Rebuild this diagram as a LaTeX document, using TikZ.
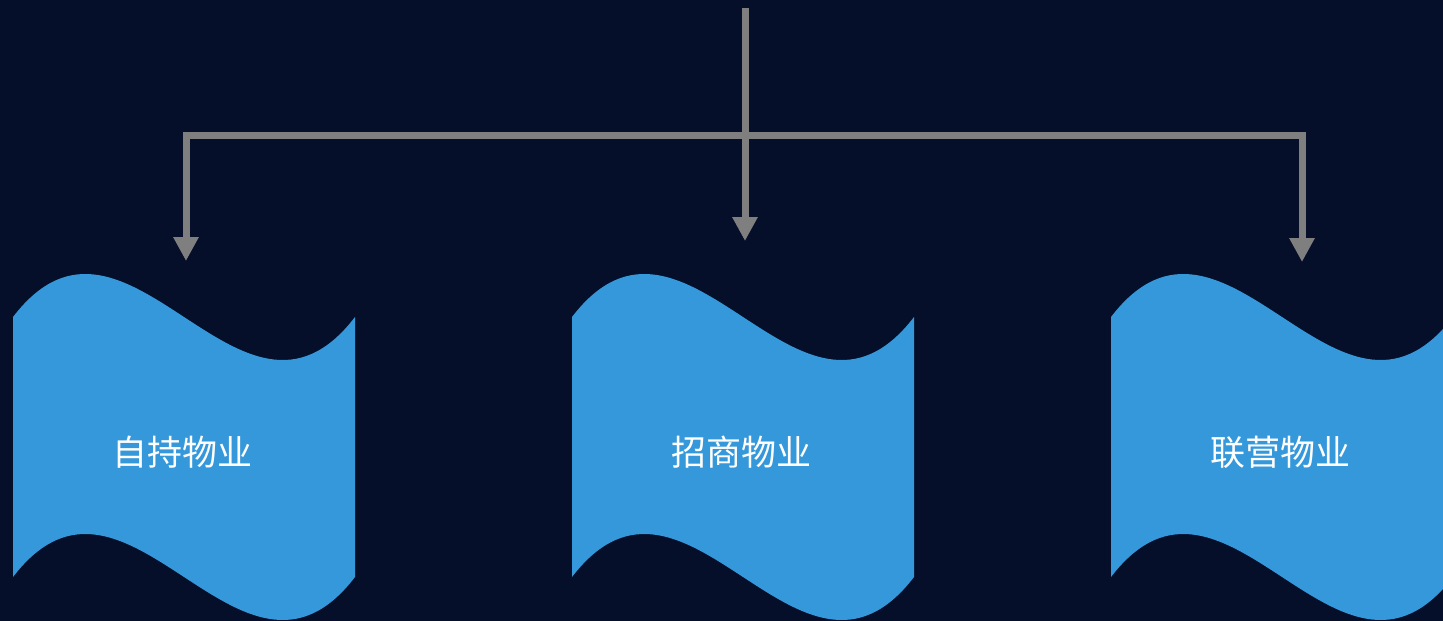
\documentclass[tikz,border=0pt]{standalone}
\usepackage{fontspec}
\newfontfamily\cjk{Noto Sans CJK SC}
\usetikzlibrary{arrows.meta}
\definecolor{bgnavy}{HTML}{060F2A}
\definecolor{wavblue}{HTML}{3498DB}
\definecolor{lngray}{HTML}{7F7F7F}
\tikzset{
  wavebox/.style={fill=wavblue},
  wavelabel/.style={text=white,font=\cjk\fontsize{35}{40}\selectfont,inner sep=0pt},
  conn/.style={draw=lngray,line width=7pt,line join=miter},
  arr/.style={conn,-{Triangle[width=24pt,length=24pt]}}
}
\begin{document}
\begin{tikzpicture}[x=1pt,y=-1pt]
\useasboundingbox (0,0) rectangle (1443,621);
\fill[bgnavy] (0,0) rectangle (1443,621);
\clip (0,0) rectangle (1443,621);
% wave boxes
\foreach \i/\x/\t in {1/13/自持物业,2/572/招商物业,3/1111/联营物业}{
  \fill[wavebox,shift={(\x,0)}]
    (0,317) .. controls (114,168) and (228,466) .. (342,317)
    -- (342,577) .. controls (228,726) and (114,428) .. (0,577) -- cycle;
  \node[wavelabel] (b\i) at (\x+169,452) {\t};
}
% connectors
\coordinate (top) at (745,8);
\coordinate (j) at (745,135.5);
\coordinate (t1) at (186,261);
\coordinate (t2) at (745,241);
\coordinate (t3) at (1302,262);
\draw[conn] (top) -- (j);
\draw[arr] (j) -| (t1);
\draw[arr] (j) -| (t3);
\draw[arr] (j) -- (t2);
\end{tikzpicture}
\end{document}
